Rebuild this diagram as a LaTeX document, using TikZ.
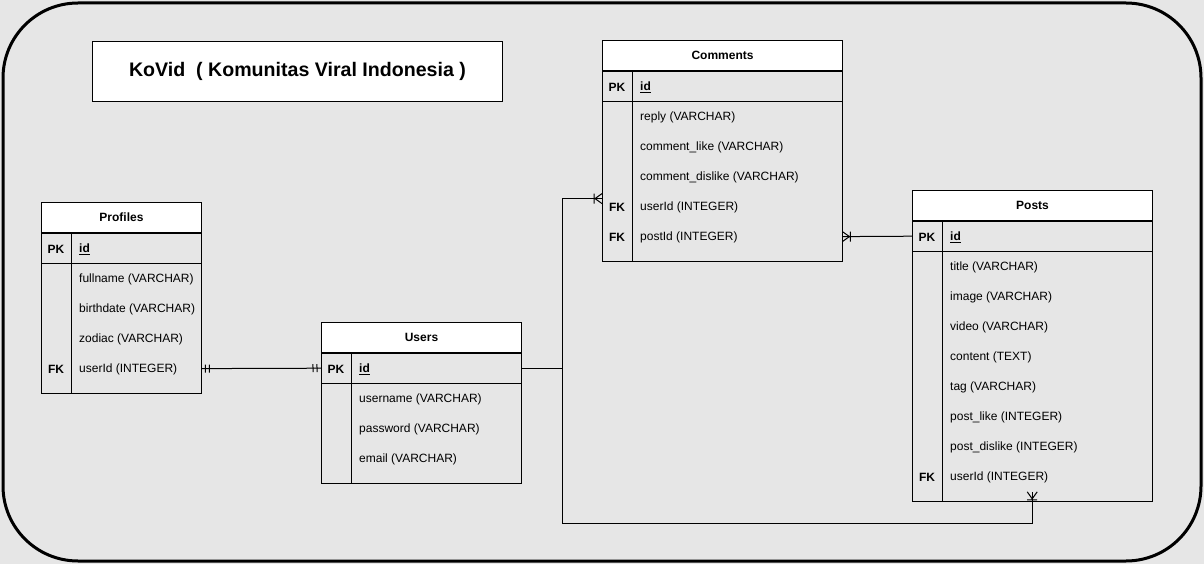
\documentclass[tikz,border=0pt]{standalone}
\usepackage{fontspec}
\setmainfont{Liberation Sans}
\usetikzlibrary{calc,decorations.markings}
\definecolor{bg}{HTML}{E6E6E6}
\tikzset{
  tline/.style={line width=1pt,draw=black},
  hdr/.style={draw=black,line width=1pt,fill=white,minimum height=30pt,inner sep=0pt,anchor=north west,font=\fontsize{12}{14}\selectfont\bfseries},
  bodybox/.style={draw=black,line width=1pt,fill=bg,inner sep=0pt,anchor=north west},
  rowbox/.style={inner sep=0pt,minimum height=30pt,anchor=north west},
  keytxt/.style={inner sep=0pt,yshift=-0.8pt,font=\fontsize{12}{14}\selectfont\bfseries},
  fldtxt/.style={inner sep=0pt,anchor=west,yshift=-0.8pt,font=\fontsize{12}{14}\selectfont},
  titlebox/.style={draw=black,line width=1pt,fill=white,anchor=north west,inner sep=0pt,font=\fontsize{19.6}{24}\selectfont\bfseries},
  conn/.style={line width=1pt,draw=black},
  oneone/.style={conn,postaction={decorate,decoration={markings,
    mark=at position 0 with {\draw[conn] (4pt,-4pt)--(4pt,4pt) (8pt,-4pt)--(8pt,4pt);},
    mark=at position 1 with {\draw[conn] (-4pt,-4pt)--(-4pt,4pt) (-8pt,-4pt)--(-8pt,4pt);}}}},
  crowto/.style={conn,postaction={decorate,decoration={markings,
    mark=at position 1 with {\draw[conn] (0pt,5pt)--(-7pt,0pt)--(0pt,-5pt) (-8pt,-5pt)--(-8pt,5pt);}}}},
}
\newcommand\ertable[7]{%
  \pgfmathsetmacro\bodyh{30*(#6+1)+10}
  \node[hdr,minimum width=#4] (#1-h) at (#2,#3) {#5};
  \node[bodybox,minimum width=#4,minimum height=\bodyh] (#1-b) at (#1-h.south west) {};
  \node[rowbox,minimum width=#4] (#1-pk) at (#1-b.north west) {};
  \draw[tline] (#1-pk.south west) -- (#1-pk.south east);
  \draw[tline] ($(#1-b.north west)+(30,0)$) -- ($(#1-b.south west)+(30,0)$);
  \node[keytxt] (#1-pkk) at ($(#1-pk.west)+(15,0)$) {PK};
  \node[fldtxt] (#1-pkt) at ($(#1-pk.west)+(38,0)$) {\bfseries\underline{id}};
  \foreach \i/\k/\t in {#7} {
    \node[rowbox,minimum width=#4] (#1-r\i) at ($(#1-pk.south west)+(0,30*\i-30)$) {};
    \node[keytxt] (#1-k\i) at ($(#1-r\i.west)+(15,0)$) {\k};
    \node[fldtxt] (#1-t\i) at ($(#1-r\i.west)+(38,0)$) {\t};
  }
}
\begin{document}
\begin{tikzpicture}[x=1pt,y=-1pt]
\fill[bg] (0,0) rectangle (1204,564);
\useasboundingbox (0,0) rectangle (1204,564);
\draw[line width=3pt,rounded corners=75pt] (3,3) rectangle (1201,561);
\node[titlebox,minimum width=410pt,minimum height=60pt] (title) at (92,41) {KoVid\ \ ( Komunitas Viral Indonesia )};

\ertable{pro}{41}{202}{160pt}{Profiles}{4}{1/ /fullname (VARCHAR),2/ /birthdate (VARCHAR),3/ /zodiac (VARCHAR),4/FK/userId (INTEGER)}
\ertable{usr}{321}{322}{200pt}{Users}{3}{1/ /username (VARCHAR),2/ /password (VARCHAR),3/ /email (VARCHAR)}
\ertable{com}{602}{40}{240pt}{Comments}{5}{1/ /reply (VARCHAR),2/ /comment\_like (VARCHAR),3/ /comment\_dislike (VARCHAR),4/FK/userId (INTEGER),5/FK/postId (INTEGER)}
\ertable{pst}{912}{190}{240pt}{Posts}{8}{1/ /title (VARCHAR),2/ /image (VARCHAR),3/ /video (VARCHAR),4/ /content (TEXT),5/ /tag (VARCHAR),6/ /post\_like (INTEGER),7/ /post\_dislike (INTEGER),8/FK/userId (INTEGER)}

\coordinate (com-in) at ($(com-r4.west)+(0,-8)$);
\draw[oneone] (pro-r4.east) -- (usr-pk.west);
\draw[crowto] (usr-pk.east) -- ++(41,0) |- (com-in);
\draw[crowto] (usr-pk.east) -- ++(41,0) -- ++(0,155) -| (pst-r8.south);
\draw[crowto] (pst-pk.west) -- (com-r5.east);
\end{tikzpicture}
\end{document}
